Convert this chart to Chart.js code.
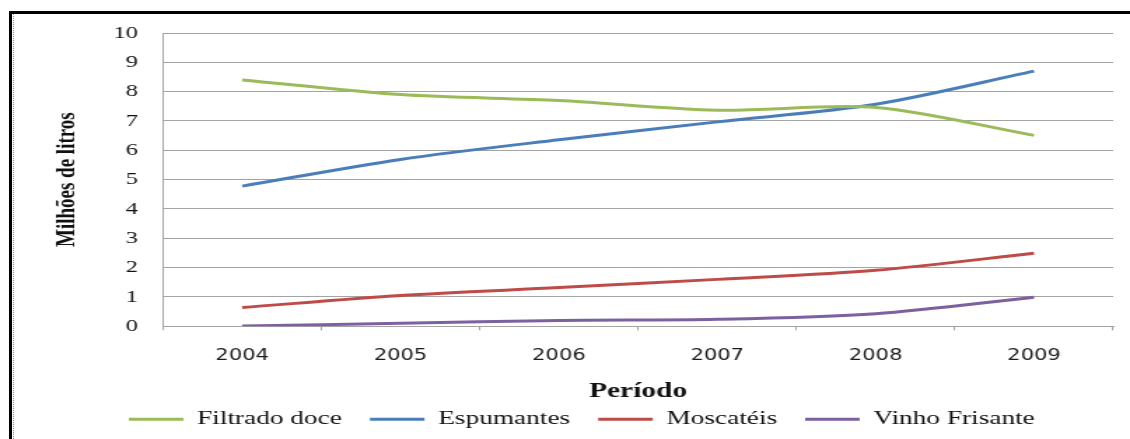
<!DOCTYPE html>
<html lang="pt">
<head>
<meta charset="utf-8">
<title>Vinhos — produção 2004-2009</title>
<script src="https://cdn.jsdelivr.net/npm/chart.js@4/dist/chart.umd.min.js"></script>
<style>
  html, body { margin: 0; padding: 0; background: #fff; }
  body { width: 1130px; height: 439px; position: relative; overflow: hidden; }
  .edge { position: absolute; background: #000; }
  #edgeTop { left: 9px; top: 11px; width: 1121px; height: 3px; }
  #edgeLeft { left: 9px; top: 11px; width: 3px; height: 428px; }
  #edgeDots { position: absolute; left: 13px; top: 14px; height: 425px; border-left: 1px dotted #8a8a8a; }
  /* the chart is laid out narrow and widened to the page width */
  #wrap { position: absolute; left: 0; top: 0; width: 807px; height: 439px;
          transform: scaleX(1.40025); transform-origin: 0 0; }
</style>
</head>
<body>
<div class="edge" id="edgeTop"></div>
<div class="edge" id="edgeLeft"></div>
<div id="edgeDots"></div>
<div id="wrap"><canvas id="chart"></canvas></div>
<script>
// Produção por tipo de vinho, em milhões de litros
const years = ['2004', '2005', '2006', '2007', '2008', '2009'];
const filtradoDoce = [8.40, 7.90, 7.70, 7.37, 7.46, 6.51];
const espumantes = [4.78, 5.69, 6.36, 6.97, 7.57, 8.70];
const moscateis = [0.64, 1.05, 1.32, 1.60, 1.91, 2.49];
const vinhoFrisante = [0.01, 0.10, 0.20, 0.24, 0.43, 0.99];
const yTicks = [0, 1, 2, 3, 4, 5, 6, 7, 8, 9, 10];

const seriesNames = ['Filtrado doce', 'Espumantes', 'Moscatéis', 'Vinho Frisante'];
const seriesValues = [filtradoDoce, espumantes, moscateis, vinhoFrisante];
const seriesColors = ['#9bbb59', '#4a7ebb', '#be4b48', '#7d60a0'];

const gridGray = '#a3a3a3';
const serif = '"Liberation Serif", "Times New Roman", serif';
const leftPad = 36;

new Chart(document.getElementById('chart'), {
  type: 'line',
  data: {
    labels: years,
    datasets: seriesNames.map((name, i) => ({
      label: name,
      data: seriesValues[i],
      borderColor: seriesColors[i],
      backgroundColor: seriesColors[i],
      borderWidth: 3,
      pointRadius: 0,
      pointHoverRadius: 0,
      tension: 0.3,
      fill: false
    }))
  },
  options: {
    responsive: true,
    maintainAspectRatio: false,
    animation: false,
    events: [],
    layout: { padding: { top: 33, right: 12, bottom: 0, left: leftPad } },
    plugins: {
      tooltip: { enabled: false },
      legend: {
        position: 'bottom',
        labels: {
          usePointStyle: true,
          pointStyle: 'line',
          pointStyleWidth: 39,
          padding: 20,
          color: '#111',
          font: { family: serif, size: 19.5 }
        }
      }
    },
    scales: {
      x: {
        offset: true,
        grid: {
          offset: true,
          drawOnChartArea: false,
          drawTicks: true,
          tickLength: 4,
          color: gridGray
        },
        border: { display: true, color: gridGray, width: 1 },
        ticks: {
          color: '#1a1a1a',
          padding: 17,
          maxRotation: 0,
          font: { family: '"DejaVu Sans", Verdana, sans-serif', size: 15 }
        },
        title: {
          display: true,
          text: 'Período',
          color: '#111',
          padding: { top: -3, bottom: -15 },
          font: { family: serif, size: 21, weight: 'bold' }
        }
      },
      y: {
        min: 0,
        max: 10,
        afterBuildTicks: (scale) => { scale.ticks = yTicks.map(v => ({ value: v })); },
        afterFit: (scale) => { scale.width = 116.4 - leftPad; },
        grid: { color: gridGray, drawTicks: false },
        border: { display: true, color: gridGray, width: 1 },
        ticks: {
          color: '#111',
          padding: 18,
          font: { family: serif, size: 17.5 }
        },
        title: {
          display: true,
          text: 'Milhões de litros',
          color: '#111',
          padding: { top: 1, bottom: 0 },
          font: { family: serif, size: 19, weight: 'bold' }
        }
      }
    }
  }
});
</script>
</body>
</html>
